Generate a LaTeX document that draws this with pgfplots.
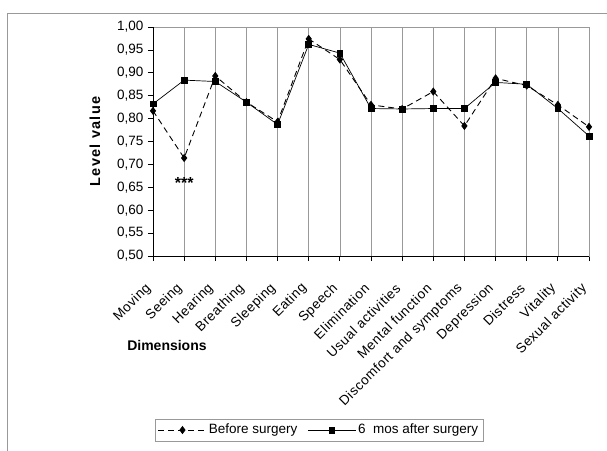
\documentclass[border=0pt]{standalone}
\usepackage{fontspec}
\setmainfont{Liberation Sans}
\usepackage{pgfplots}
\pgfplotsset{compat=1.18}
\begin{document}
\fontsize{13}{15}\selectfont
\begin{tikzpicture}
\useasboundingbox (-153pt,-194pt) rectangle (454pt,256pt);
\draw[gray!80, line width=0.8pt] (-146pt,-200pt) -- (-146pt,243pt) -- (460pt,243pt);
\begin{axis}[
  at={(0pt,0pt)}, anchor=south west,
  scale only axis, width=436pt, height=229pt,
  xmin=0, xmax=14, ymin=0.5, ymax=1.0,
  xtick={0,...,14},
  xticklabels={Moving,Seeing,Hearing,Breathing,Sleeping,Eating,Speech,Elimination,Usual activities,Mental function,Discomfort and symptoms,Depression,Distress,Vitality,Sexual activity},
  ytick={0.5,0.55,...,1.01},
  yticklabel style={font=\fontsize{13.5}{15}\selectfont, /pgf/number format/.cd, fixed, fixed zerofill, precision=2, use comma, assume math mode=true},
  xticklabel style={xshift=-1pt, yshift=-22pt, rotate=45, anchor=east, font=\fontsize{13.5}{15}\selectfont\addfontfeature{LetterSpace=4}},
  tick align=outside, xtick pos=bottom, ytick pos=left,
  major tick length=5pt,
  tick style={black, line width=0.8pt},
  axis line style={gray!80, line width=0.8pt},
  xmajorgrids, grid style={gray!80, line width=0.6pt},
  clip=false,
  ylabel={\bfseries\addfontfeature{LetterSpace=9}Level value},
  ylabel style={at={(axis description cs:-0.133,0.5)}, anchor=center, font=\fontsize{14.5}{15}\selectfont},
  legend columns=2,
  legend style={at={(axis description cs:0.381,-0.760)}, anchor=center, draw=gray!80, font=\fontsize{13.5}{15}\selectfont, inner ysep=3pt, /tikz/every even column/.append style={column sep=8pt}},
  legend cell align=left,
  legend image code/.code={\draw[mark repeat=2,mark phase=2,#1] plot coordinates {(0pt,0pt) (24pt,0pt) (48pt,0pt)};},
]
\addplot[black, line width=0.9pt, dash pattern=on 6pt off 4pt, mark=diamond*, mark size=3.4pt, mark options={solid}] coordinates {
(0,0.817) (1,0.714) (2,0.893) (3,0.836) (4,0.793) (5,0.974) (6,0.929) (7,0.830) (8,0.821) (9,0.859) (10,0.784) (11,0.888) (12,0.872) (13,0.830) (14,0.782)};
\addlegendentry{Before surgery}
\addplot[black, line width=0.7pt, mark=square*, mark size=2.9pt] coordinates {
(0,0.832) (1,0.884) (2,0.881) (3,0.836) (4,0.787) (5,0.962) (6,0.943) (7,0.822) (8,0.821) (9,0.822) (10,0.822) (11,0.879) (12,0.875) (13,0.822) (14,0.762)};
\addlegendentry{6\ \ mos after surgery}
\draw[black, line width=1pt] (rel axis cs:0,1) -- (rel axis cs:0,0) -- (rel axis cs:1,0);
\node[font=\bfseries\fontsize{14}{15}\selectfont] at (axis description cs:0.032,-0.389) {Dimensions};
\node[font=\bfseries\fontsize{16}{16}\selectfont] at (axis cs:1,0.66) {***};
\end{axis}
\end{tikzpicture}
\end{document}
